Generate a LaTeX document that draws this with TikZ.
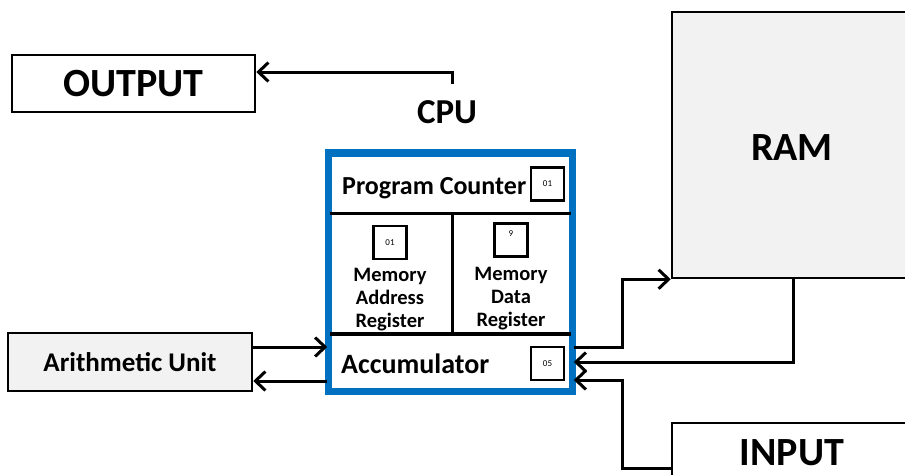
\documentclass[tikz,border=0pt]{standalone}
\usepackage{fontspec}
\setmainfont{Carlito}
\usetikzlibrary{arrows.meta,calc}
\definecolor{cpublue}{HTML}{0070C0}
\definecolor{boxgray}{HTML}{F2F2F2}
\begin{document}
\begin{tikzpicture}[x=1pt,y=-1pt,
  arr/.style={line width=3pt,-{Straight Barb[length=10pt,width=19pt,line width=3pt]}},
  plainbox/.style={draw=black,line width=2.5pt,inner sep=0pt},
  regbox/.style={draw=black,line width=2.5pt,inner sep=0pt,minimum width=33pt,minimum height=33pt,font=\fontsize{9}{10}\selectfont},
  bigtxt/.style={font=\fontsize{40}{48}\selectfont\bfseries,inner sep=0pt},
  midtxt/.style={font=\fontsize{27}{32}\selectfont\bfseries,inner sep=0pt},
  smalltxt/.style={font=\fontsize{20.5}{23}\selectfont\bfseries,inner sep=0pt,align=center}]
\clip (0,0) rectangle (905,474);
\fill[white] (0,0) rectangle (905,474);

% boxes
\node[plainbox,fill=white,minimum width=243pt,minimum height=57pt,bigtxt] (out) at (133.5,83.5) {OUTPUT};
\node[plainbox,fill=boxgray,minimum width=244pt,minimum height=58pt,midtxt] (au) at (130,362) {Arithmetic Unit};
\node[plainbox,fill=boxgray,minimum width=300pt,minimum height=266pt] (ram) at (822,145) {};
\node[plainbox,fill=white,minimum width=300pt,minimum height=120pt] (inp) at (822,483) {};
\node[bigtxt,anchor=base] (ramt) at (792,160) {RAM};
\node[bigtxt,anchor=base] (inpt) at (792,465) {INPUT};
\node[font=\fontsize{35}{42}\selectfont\bfseries,inner sep=0pt,anchor=base] (cput) at (447,123) {CPU};

% CPU
\node[draw=cpublue,line width=5pt,fill=white,minimum width=241.5pt,minimum height=236pt,inner sep=0pt] (cpu) at (450.5,272) {};
\coordinate (sepL) at (cpu.west |- 0,213);
\coordinate (sepR) at (cpu.east |- 0,213);
\coordinate (accL) at (cpu.west |- 0,334);
\coordinate (accR) at (cpu.east |- 0,334);
\coordinate (midT) at (452,213);
\coordinate (midB) at (452,334);
\draw[line width=3pt] (sepL) -- (sepR);
\draw[line width=3pt] (midT) -- (midB);
\draw[line width=4pt] (accL) -- (accR);
\draw[cpublue,line width=5pt] (cpu.north west) rectangle (cpu.south east);

\node[midtxt,anchor=base west,font=\fontsize{26}{30}\selectfont\bfseries] (pc) at (342,194) {Program Counter};
\node[regbox,fill=white] (pcv) at (547.5,184) {01};
\node[regbox] (marv) at (390,242.5) {01};
\node[regbox] (mdrv) at (511,240) {};
\node[font=\fontsize{9}{10}\selectfont,inner sep=0pt] (mdrn) at (511,234) {9};
\node[regbox] (accv) at (547.5,363.5) {05};
\node[smalltxt,anchor=base] (mar) at (390,327) {Memory\\Address\\Register};
\node[smalltxt,anchor=base] (mdr) at (511,326) {Memory\\Data\\Register};
\node[midtxt,anchor=base west,font=\fontsize{28}{32}\selectfont\bfseries] (acc) at (341,373) {Accumulator};

% connectors
\coordinate (cpuout) at (452,84);
\draw[arr] (cpuout) |- ([yshift=11.5pt]out.east);

\coordinate (au1) at ([yshift=15pt]au.east);
\coordinate (au2) at ([yshift=-19pt]au.east);
\draw[arr] (au1) -- (au1 -| cpu.west);
\draw[arr] (au2 -| cpu.west) -- (au2);

\coordinate (c1) at (cpu.east |- 0,347);
\coordinate (bend) at (622,347);
\draw[arr] (c1) -- (bend) |- (ram.south west);

\coordinate (ramout) at (793,278);
\coordinate (c2) at (cpu.east |- 0,362);
\draw[arr] (ramout) |- (c2);

\coordinate (inpin) at (inp.west |- 0,468);
\coordinate (c3) at (cpu.east |- 0,380);
\draw[arr] (inpin) -| (622,380) -- (c3);
\end{tikzpicture}
\end{document}
